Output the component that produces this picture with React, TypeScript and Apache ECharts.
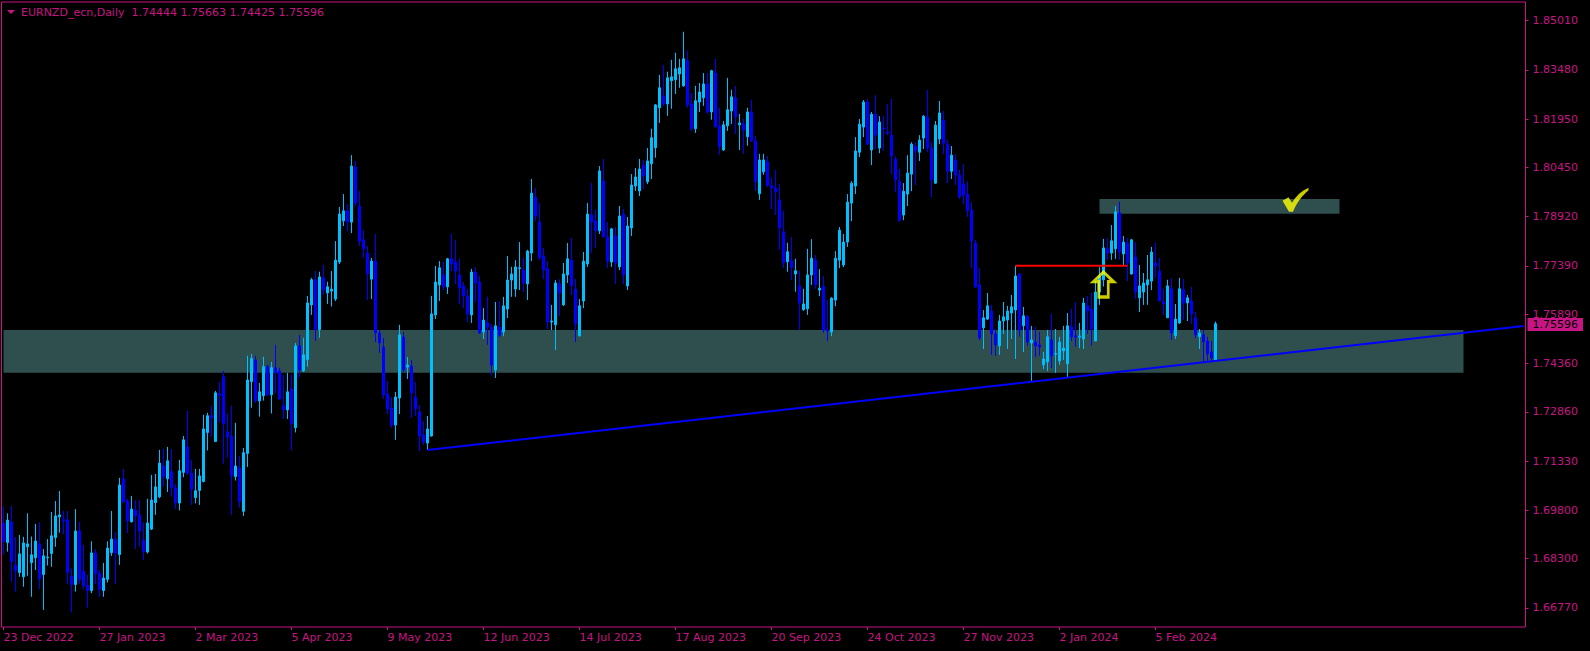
import { useEffect, useRef } from "react";
import * as echarts from "echarts";

const symbolName = "EURNZD_ecn,Daily";

const opens = [
  1.6940, 1.6880, 1.6944, 1.6810, 1.6787, 1.6774, 1.6867, 1.6818, 1.6833, 1.6876,
  1.6781, 1.6833, 1.6846, 1.6896, 1.6960, 1.6952, 1.6950, 1.6776, 1.6750, 1.6916,
  1.6791, 1.6747, 1.6731, 1.6848, 1.6785, 1.6731, 1.6766, 1.6849, 1.6890, 1.6843,
  1.7078, 1.7009, 1.6945, 1.6981, 1.6966, 1.6888, 1.6851, 1.6922, 1.7004, 1.7022,
  1.7118, 1.7078, 1.7100, 1.7050, 1.7003, 1.7098, 1.7177, 1.7096, 1.7020, 1.7042,
  1.7070, 1.7222, 1.7274, 1.7194, 1.7342, 1.7395, 1.7224, 1.7211, 1.7085, 1.7112,
  1.6977, 1.7157, 1.7380, 1.7447, 1.7320, 1.7336, 1.7426, 1.7339, 1.7423, 1.7413,
  1.7305, 1.7292, 1.7357, 1.7237, 1.7491, 1.7413, 1.7448, 1.7618, 1.7696, 1.7541,
  1.7702, 1.7655, 1.7661, 1.7636, 1.7751, 1.7879, 1.7910, 1.7875, 1.8046, 1.7925,
  1.7820, 1.7779, 1.7698, 1.7754, 1.7531, 1.7487, 1.7341, 1.7298, 1.7245, 1.7329,
  1.7518, 1.7425, 1.7428, 1.7332, 1.7286, 1.7214, 1.7189, 1.7211, 1.7587, 1.7680,
  1.7711, 1.7674, 1.7761, 1.7751, 1.7711, 1.7677, 1.7646, 1.7587, 1.7720, 1.7689,
  1.7534, 1.7562, 1.7549, 1.7416, 1.7549, 1.7534, 1.7605, 1.7695, 1.7667, 1.7731,
  1.7726, 1.7683, 1.7779, 1.7953, 1.7875, 1.7770, 1.7730, 1.7565, 1.7556, 1.7683,
  1.7618, 1.7711, 1.7757, 1.7667, 1.7522, 1.7630, 1.7745, 1.7897, 1.7879, 1.7848,
  1.8003, 1.7829, 1.7751, 1.7832, 1.7736, 1.7900, 1.7677, 1.7857, 1.7987, 1.7972,
  1.8052, 1.8000, 1.8056, 1.8106, 1.8230, 1.8267, 1.8242, 1.8314, 1.8317, 1.8335,
  1.8298, 1.8376, 1.8242, 1.8165, 1.8248, 1.8261, 1.8304, 1.8217, 1.8338, 1.8174,
  1.8099, 1.8174, 1.8220, 1.8261, 1.8177, 1.8180, 1.8140, 1.8217, 1.8127, 1.7963,
  1.8031, 1.8062, 1.7988, 1.7981, 1.7944, 1.7845, 1.7752, 1.7755, 1.7714, 1.7677,
  1.7603, 1.7606, 1.7711, 1.7757, 1.7664, 1.7676, 1.7540, 1.7534, 1.7633, 1.7757,
  1.7742, 1.7813, 1.7934, 1.7987, 1.8092, 1.8170, 1.8248, 1.8099, 1.8210, 1.8105,
  1.8167, 1.8155, 1.8145, 1.8071, 1.8002, 1.7897, 1.7962, 1.8024, 1.8111, 1.8092,
  1.8136, 1.8201, 1.8105, 1.7996, 1.8133, 1.8192, 1.8117, 1.8033, 1.8068, 1.8021,
  1.7993, 1.7962, 1.7913, 1.7810, 1.7680, 1.7547, 1.7574, 1.7599, 1.7528, 1.7491,
  1.7568, 1.7571, 1.7593, 1.7602, 1.7714, 1.7553, 1.7581, 1.7500, 1.7503, 1.7494,
  1.7432, 1.7441, 1.7509, 1.7465, 1.7444, 1.7475, 1.7435, 1.7550, 1.7522, 1.7518,
  1.7512, 1.7615, 1.7605, 1.7506, 1.7658, 1.7696, 1.7792, 1.7779, 1.7792, 1.7904,
  1.7776, 1.7810, 1.7714, 1.7767, 1.7640, 1.7658, 1.7680, 1.7692, 1.7748, 1.7723,
  1.7627, 1.7578, 1.7668, 1.7522, 1.7562, 1.7665, 1.7624, 1.7630, 1.7578, 1.7519,
  1.7525, 1.7506, 1.7472, 1.74444,
];

const highs = [
  1.6992, 1.6971, 1.6994, 1.6897, 1.6904, 1.6898, 1.6971, 1.6899, 1.6938, 1.6943,
  1.6860, 1.6891, 1.6975, 1.7009, 1.7040, 1.6978, 1.6978, 1.6800, 1.6984, 1.6944,
  1.6873, 1.6780, 1.6884, 1.6860, 1.6795, 1.6817, 1.6884, 1.6978, 1.6913, 1.7081,
  1.7109, 1.7016, 1.7025, 1.7012, 1.7012, 1.6943, 1.7016, 1.7090, 1.7093, 1.7168,
  1.7171, 1.7177, 1.7170, 1.7061, 1.7137, 1.7211, 1.7289, 1.7137, 1.7109, 1.7109,
  1.7277, 1.7283, 1.7305, 1.7351, 1.7379, 1.7413, 1.7281, 1.7305, 1.7252, 1.7149,
  1.7174, 1.7460, 1.7466, 1.7460, 1.7376, 1.7457, 1.7432, 1.7441, 1.7494, 1.7423,
  1.7401, 1.7407, 1.7401, 1.7500, 1.7525, 1.7516, 1.7646, 1.7702, 1.7724, 1.7721,
  1.7742, 1.7690, 1.7723, 1.7816, 1.7922, 1.7962, 1.7931, 1.8083, 1.8065, 1.7972,
  1.7851, 1.7801, 1.7764, 1.7838, 1.7540, 1.7515, 1.7382, 1.7332, 1.7348, 1.7556,
  1.7534, 1.7456, 1.7447, 1.7379, 1.7307, 1.7258, 1.7273, 1.7646, 1.7739, 1.7754,
  1.7751, 1.7764, 1.7838, 1.7820, 1.7761, 1.7689, 1.7667, 1.7730, 1.7736, 1.7708,
  1.7608, 1.7643, 1.7559, 1.7627, 1.7630, 1.7643, 1.7770, 1.7736, 1.7757, 1.7813,
  1.7764, 1.7789, 1.8009, 1.7981, 1.7934, 1.7795, 1.7754, 1.7618, 1.7695, 1.7698,
  1.7748, 1.7810, 1.7826, 1.7698, 1.7636, 1.7782, 1.7934, 1.7997, 1.7913, 1.8049,
  1.8071, 1.7875, 1.7857, 1.7860, 1.7925, 1.7916, 1.7891, 1.8024, 1.8043, 1.8071,
  1.8068, 1.8105, 1.8165, 1.8242, 1.8332, 1.8363, 1.8342, 1.8379, 1.8401, 1.8382,
  1.8466, 1.8407, 1.8276, 1.8298, 1.8307, 1.8338, 1.8338, 1.8348, 1.8382, 1.8230,
  1.8189, 1.8323, 1.8286, 1.8298, 1.8211, 1.8196, 1.8230, 1.8255, 1.8143, 1.8087,
  1.8087, 1.8081, 1.8012, 1.8037, 1.7994, 1.7910, 1.7811, 1.7829, 1.7761, 1.7724,
  1.7668, 1.7792, 1.7822, 1.7773, 1.7729, 1.7708, 1.7633, 1.7642, 1.7785, 1.7860,
  1.7838, 1.7962, 1.8002, 1.8139, 1.8195, 1.8254, 1.8257, 1.8217, 1.8269, 1.8204,
  1.8204, 1.8241, 1.8257, 1.8080, 1.8040, 1.7996, 1.8083, 1.8123, 1.8123, 1.8145,
  1.8207, 1.8285, 1.8123, 1.8189, 1.8251, 1.8220, 1.8130, 1.8111, 1.8086, 1.8037,
  1.8055, 1.8002, 1.7935, 1.7820, 1.7733, 1.7602, 1.7655, 1.7618, 1.7543, 1.7587,
  1.7627, 1.7615, 1.7649, 1.7740, 1.7716, 1.7612, 1.7587, 1.7553, 1.7550, 1.7534,
  1.7472, 1.7540, 1.7590, 1.7543, 1.7519, 1.7553, 1.7593, 1.7606, 1.7627, 1.7562,
  1.7640, 1.7646, 1.7655, 1.7692, 1.7735, 1.7823, 1.7826, 1.7866, 1.7925, 1.7938,
  1.7832, 1.7826, 1.7823, 1.7813, 1.7742, 1.7717, 1.7773, 1.7798, 1.7810, 1.7764,
  1.7668, 1.7696, 1.7702, 1.7621, 1.7702, 1.7699, 1.7649, 1.7674, 1.7596, 1.7543,
  1.7540, 1.7519, 1.7506, 1.75663,
];

const lows = [
  1.6842, 1.6852, 1.6759, 1.6728, 1.6774, 1.6743, 1.6777, 1.6712, 1.6795, 1.6736,
  1.6671, 1.6809, 1.6805, 1.6867, 1.6911, 1.6906, 1.6752, 1.6663, 1.6728, 1.6752,
  1.6735, 1.6678, 1.6723, 1.6752, 1.6712, 1.6712, 1.6756, 1.6839, 1.6752, 1.6811,
  1.7002, 1.6910, 1.6942, 1.6860, 1.6867, 1.6826, 1.6846, 1.6919, 1.6966, 1.7018,
  1.7054, 1.7037, 1.7023, 1.6985, 1.6980, 1.7083, 1.7090, 1.6997, 1.7002, 1.6997,
  1.7067, 1.7166, 1.7209, 1.7192, 1.7253, 1.7125, 1.7144, 1.6966, 1.7073, 1.6989,
  1.6963, 1.7115, 1.7299, 1.7314, 1.7271, 1.7321, 1.7334, 1.7281, 1.7345, 1.7324,
  1.7264, 1.7264, 1.7166, 1.7222, 1.7393, 1.7410, 1.7426, 1.7587, 1.7506, 1.7516,
  1.7649, 1.7621, 1.7613, 1.7630, 1.7745, 1.7863, 1.7847, 1.7841, 1.7925, 1.7801,
  1.7764, 1.7633, 1.7636, 1.7503, 1.7469, 1.7326, 1.7279, 1.7236, 1.7199, 1.7279,
  1.7410, 1.7388, 1.7267, 1.7273, 1.7164, 1.7183, 1.7168, 1.7209, 1.7574, 1.7630,
  1.7664, 1.7652, 1.7723, 1.7683, 1.7621, 1.7608, 1.7565, 1.7562, 1.7627, 1.7528,
  1.7512, 1.7494, 1.7400, 1.7391, 1.7518, 1.7521, 1.7577, 1.7643, 1.7643, 1.7664,
  1.7658, 1.7633, 1.7754, 1.7879, 1.7757, 1.7698, 1.7543, 1.7540, 1.7478, 1.7584,
  1.7615, 1.7686, 1.7649, 1.7503, 1.7520, 1.7608, 1.7736, 1.7779, 1.7795, 1.7838,
  1.7827, 1.7733, 1.7736, 1.7683, 1.7726, 1.7683, 1.7664, 1.7832, 1.7972, 1.7956,
  1.7978, 1.7993, 1.8009, 1.8075, 1.8183, 1.8236, 1.8205, 1.8227, 1.8273, 1.8292,
  1.8295, 1.8230, 1.8158, 1.8152, 1.8217, 1.8236, 1.8211, 1.8193, 1.8168, 1.8084,
  1.8096, 1.8158, 1.8180, 1.8149, 1.8099, 1.8087, 1.8112, 1.8124, 1.7972, 1.7944,
  1.8022, 1.7985, 1.7916, 1.7898, 1.7789, 1.7733, 1.7721, 1.7696, 1.7659, 1.7541,
  1.7600, 1.7587, 1.7680, 1.7667, 1.7645, 1.7531, 1.7506, 1.7521, 1.7614, 1.7732,
  1.7735, 1.7798, 1.7878, 1.7962, 1.8077, 1.8139, 1.8115, 1.8052, 1.8102, 1.8089,
  1.8096, 1.8145, 1.8024, 1.7968, 1.7875, 1.7881, 1.7925, 1.7971, 1.7990, 1.8065,
  1.8102, 1.8092, 1.7953, 1.7994, 1.8117, 1.8086, 1.7996, 1.8009, 1.7990, 1.7947,
  1.7931, 1.7891, 1.7733, 1.7671, 1.7509, 1.7481, 1.7571, 1.7463, 1.7460, 1.7463,
  1.7528, 1.7481, 1.7512, 1.7450, 1.7519, 1.7472, 1.7491, 1.7382, 1.7456, 1.7460,
  1.7419, 1.7413, 1.7422, 1.7407, 1.7432, 1.7447, 1.7394, 1.7506, 1.7488, 1.7484,
  1.7481, 1.7528, 1.7491, 1.7506, 1.7618, 1.7675, 1.7758, 1.7758, 1.7761, 1.7758,
  1.7742, 1.7692, 1.7712, 1.7637, 1.7596, 1.7618, 1.7618, 1.7664, 1.7702, 1.7630,
  1.7587, 1.7578, 1.7509, 1.7512, 1.7559, 1.7571, 1.7568, 1.7559, 1.7515, 1.7481,
  1.7441, 1.7441, 1.7441, 1.74425,
];

const closes = [
  1.6883, 1.6950, 1.6821, 1.6793, 1.6845, 1.6879, 1.6876, 1.6842, 1.6885, 1.6767,
  1.6839, 1.6835, 1.6901, 1.6963, 1.6966, 1.6947, 1.6787, 1.6750, 1.6916, 1.6766,
  1.6746, 1.6731, 1.6848, 1.6784, 1.6735, 1.6770, 1.6863, 1.6891, 1.6847, 1.7059,
  1.7007, 1.6947, 1.6984, 1.6964, 1.6916, 1.6852, 1.6941, 1.7012, 1.7053, 1.7127,
  1.7084, 1.7134, 1.7050, 1.7003, 1.7103, 1.7199, 1.7096, 1.7046, 1.7041, 1.7087,
  1.7233, 1.7274, 1.7268, 1.7345, 1.7337, 1.7250, 1.7208, 1.7088, 1.7118, 1.7008,
  1.7159, 1.7385, 1.7451, 1.7320, 1.7348, 1.7426, 1.7339, 1.7423, 1.7407, 1.7326,
  1.7292, 1.7348, 1.7250, 1.7491, 1.7416, 1.7463, 1.7624, 1.7696, 1.7541, 1.7705,
  1.7665, 1.7674, 1.7667, 1.7757, 1.7900, 1.7910, 1.7875, 1.8049, 1.7934, 1.7816,
  1.7792, 1.7714, 1.7754, 1.7531, 1.7500, 1.7338, 1.7295, 1.7245, 1.7332, 1.7525,
  1.7416, 1.7431, 1.7345, 1.7295, 1.7211, 1.7192, 1.7233, 1.7590, 1.7689, 1.7733,
  1.7674, 1.7761, 1.7745, 1.7723, 1.7671, 1.7646, 1.7590, 1.7720, 1.7686, 1.7531,
  1.7571, 1.7549, 1.7431, 1.7553, 1.7524, 1.7615, 1.7695, 1.7714, 1.7736, 1.7733,
  1.7686, 1.7785, 1.7965, 1.7894, 1.7764, 1.7726, 1.7565, 1.7568, 1.7686, 1.7655,
  1.7714, 1.7761, 1.7677, 1.7559, 1.7615, 1.7754, 1.7900, 1.7875, 1.7848, 1.8034,
  1.7829, 1.7754, 1.7854, 1.7748, 1.7894, 1.7711, 1.7863, 1.7990, 1.8015, 1.8040,
  1.8018, 1.8065, 1.8137, 1.8239, 1.8292, 1.8242, 1.8323, 1.8326, 1.8351, 1.8354,
  1.8382, 1.8239, 1.8165, 1.8252, 1.8279, 1.8304, 1.8217, 1.8345, 1.8171, 1.8109,
  1.8177, 1.8224, 1.8264, 1.8202, 1.8183, 1.8161, 1.8217, 1.8127, 1.8000, 1.8068,
  1.8068, 1.7988, 1.7981, 1.7969, 1.7857, 1.7749, 1.7783, 1.7733, 1.7724, 1.7624,
  1.7621, 1.7711, 1.7763, 1.7680, 1.7670, 1.7540, 1.7537, 1.7639, 1.7763, 1.7850,
  1.7813, 1.7937, 1.7996, 1.8096, 1.8179, 1.8248, 1.8117, 1.8210, 1.8145, 1.8186,
  1.8164, 1.8151, 1.8080, 1.8006, 1.7881, 1.7971, 1.8027, 1.8117, 1.8096, 1.8130,
  1.8204, 1.8105, 1.8006, 1.8176, 1.8214, 1.8120, 1.8033, 1.8083, 1.8021, 1.7953,
  1.7959, 1.7912, 1.7817, 1.7674, 1.7515, 1.7578, 1.7615, 1.7528, 1.7494, 1.7568,
  1.7581, 1.7599, 1.7612, 1.7708, 1.7540, 1.7584, 1.7503, 1.7509, 1.7491, 1.7487,
  1.7450, 1.7519, 1.7460, 1.7467, 1.7503, 1.7484, 1.7553, 1.7519, 1.7518, 1.7521,
  1.7624, 1.7599, 1.7543, 1.7658, 1.7706, 1.7795, 1.7779, 1.7817, 1.7907, 1.7782,
  1.7813, 1.7748, 1.7820, 1.7658, 1.7677, 1.7686, 1.7696, 1.7782, 1.7739, 1.7630,
  1.7621, 1.7677, 1.7531, 1.7574, 1.7668, 1.7624, 1.7640, 1.7590, 1.7525, 1.7531,
  1.7503, 1.7466, 1.7453, 1.75596,
];

const dateLabels = [
  "23 Dec 2022", "27 Jan 2023", "2 Mar 2023", "5 Apr 2023", "9 May 2023",
  "12 Jun 2023", "14 Jul 2023", "17 Aug 2023", "20 Sep 2023", "24 Oct 2023",
  "27 Nov 2023", "2 Jan 2024", "5 Feb 2024",
];
const barsPerLabel = 24;
const totalSlots = 381;

const priceTicks = [
  1.6677, 1.683, 1.698, 1.7133, 1.7286, 1.7436, 1.7589, 1.7739, 1.7892,
  1.8045, 1.8195, 1.8348, 1.8501,
];
const priceMin = 1.6618;
const priceMax = 1.85584;

const supportZoneBars = [0, 365];
const supportZonePrices = [1.75401, 1.74075];
const targetZoneBars = [274, 334];
const targetZonePrices = [1.79468, 1.79011];
const trendBars = [106, 380];
const trendPrices = [1.71675, 1.75525];
const breakoutBars = [253, 281];
const breakoutPrices = [1.77397, 1.77397];
const arrowBars = [275];
const arrowPrices = [1.76813];
const checkBars = [323];
const checkPrices = [1.79446];

const MAGENTA = "#C71585";
const BULL = "#00BFFF";
const BEAR = "#0000FF";
const FONT = "DejaVu Sans";

export default function App() {
  const ref = useRef<HTMLDivElement>(null);

  useEffect(() => {
    if (!ref.current) return;
    const chart = echarts.init(ref.current, null, { renderer: "svg" });
    const categories = Array.from({ length: totalSlots }, (_, i) => String(i));
    const last = opens.length - 1;
    const showIdx = (i: number) =>
      i % barsPerLabel === 0 && i / barsPerLabel < dateLabels.length;

    const titleText =
      symbolName +
      "\u00a0\u00a0" +
      [opens[last], highs[last], lows[last], closes[last]]
        .map((v) => v.toFixed(5))
        .join(" ");

    const baseGraphic = [
      {
        id: "titleMarker",
        type: "polygon",
        shape: { points: [[7, 10], [15, 10], [11, 14]] },
        style: { fill: MAGENTA },
      },
    ];

    chart.setOption({
      animation: false,
      backgroundColor: "#000000",
      title: {
        text: titleText,
        left: 21,
        top: 6,
        padding: 0,
        textStyle: {
          color: MAGENTA,
          fontSize: 11,
          fontFamily: FONT,
          fontWeight: "normal",
          lineHeight: 13,
        },
      },
      graphic: baseGraphic,
      grid: {
        left: 1.5,
        top: 2,
        width: 1524,
        height: 625,
        show: true,
        borderColor: MAGENTA,
        borderWidth: 1,
        backgroundColor: "#000000",
      },
      xAxis: {
        type: "category",
        data: categories,
        boundaryGap: true,
        axisLine: { show: false },
        axisTick: {
          show: true,
          alignWithLabel: true,
          length: 3,
          interval: (i: number) => showIdx(i),
          lineStyle: { color: MAGENTA },
        },
        axisLabel: {
          interval: (i: number) => showIdx(i),
          formatter: (_v: string, i: number) => dateLabels[i / barsPerLabel] ?? "",
          color: MAGENTA,
          fontSize: 11,
          fontFamily: FONT,
          align: "left",
          margin: 5,
        },
        splitLine: { show: false },
      },
      yAxis: {
        type: "value",
        position: "right",
        min: priceMin,
        max: priceMax,
        scale: true,
        axisLine: { show: false },
        splitLine: { show: false },
        axisTick: {
          show: true,
          length: 3,
          customValues: priceTicks,
          lineStyle: { color: MAGENTA },
        },
        axisLabel: {
          customValues: priceTicks,
          formatter: (v: number) => v.toFixed(5),
          color: MAGENTA,
          fontSize: 11,
          fontFamily: FONT,
          margin: 7,
        },
      },
      series: [
        {
          type: "line",
          name: "zones",
          data: [],
          z: 1,
          silent: true,
          markArea: {
            silent: true,
            itemStyle: { color: "#2F4F4F", opacity: 1 },
            label: { show: false },
            data: [
              [
                { xAxis: supportZoneBars[0], yAxis: supportZonePrices[0] },
                { xAxis: supportZoneBars[1], yAxis: supportZonePrices[1] },
              ],
              [
                { xAxis: targetZoneBars[0], yAxis: targetZonePrices[0] },
                { xAxis: targetZoneBars[1], yAxis: targetZonePrices[1] },
              ],
            ],
          },
        },
        {
          type: "candlestick",
          name: symbolName,
          z: 3,
          barWidth: 2,
          data: opens.map((o, i) => [o, closes[i], lows[i], highs[i]]),
          itemStyle: {
            color: BULL,
            color0: BEAR,
            borderColor: BULL,
            borderColor0: BEAR,
            borderColorDoji: BULL,
            borderWidth: 1,
          },
          emphasis: { disabled: true },
        },
        {
          type: "line",
          name: "trend",
          z: 4,
          silent: true,
          symbol: "none",
          data: trendBars.map((b, i) => [b, trendPrices[i]]),
          lineStyle: { color: BEAR, width: 2 },
        },
        {
          type: "line",
          name: "breakout",
          z: 4,
          silent: true,
          symbol: "none",
          data: breakoutBars.map((b, i) => [b, breakoutPrices[i]]),
          lineStyle: { color: "#FF0000", width: 2 },
        },
        {
          type: "scatter",
          name: "arrow",
          z: 5,
          silent: true,
          symbol: "path://M10.5,0 L21,10 L15.5,10 L15.5,26 L5.5,26 L5.5,10 L0,10 Z",
          symbolSize: [20, 25],
          symbolKeepAspect: false,
          data: arrowBars.map((b, i) => [b, arrowPrices[i]]),
          itemStyle: {
            color: "rgba(0,0,0,0)",
            borderColor: "#FFFF00",
            borderWidth: 3,
          },
        },
        {
          type: "scatter",
          name: "check",
          z: 5,
          silent: true,
          symbol:
            "path://M0,13 L6,9.5 L9.5,15 C13.5,8 19,3 26,0 L26,2.5 C20,7.5 14.5,14.5 10.5,24 L6.5,24 Z",
          symbolSize: [26, 24],
          symbolKeepAspect: false,
          data: checkBars.map((b, i) => [b, checkPrices[i]]),
          itemStyle: { color: "#FFFF00" },
        },
      ],
    });

    // current price tag on the price scale, placed from the last close through the y axis
    const bidY = chart.convertToPixel({ yAxisIndex: 0 }, closes[last]) as number;
    const gridRight = (chart.convertToPixel({ xAxisIndex: 0 }, categories[totalSlots - 1]) as number) + 2;
    chart.setOption({
      graphic: [
        ...baseGraphic,
        {
          id: "bidTag",
          type: "text",
          z: 100,
          x: gridRight + 2,
          y: Math.round(bidY) + 0.5,
          style: {
            text: closes[last].toFixed(5),
            fill: "#000000",
            font: `11px "${FONT}"`,
            align: "left",
            verticalAlign: "middle",
            backgroundColor: MAGENTA,
            padding: [1, 5, 1, 5],
          },
        },
      ],
    });

    return () => chart.dispose();
  }, []);

  return (
    <div
      ref={ref}
      style={{
        position: "fixed",
        left: 0,
        top: 0,
        width: 1590,
        height: 651,
        background: "#000000",
      }}
    />
  );
}
